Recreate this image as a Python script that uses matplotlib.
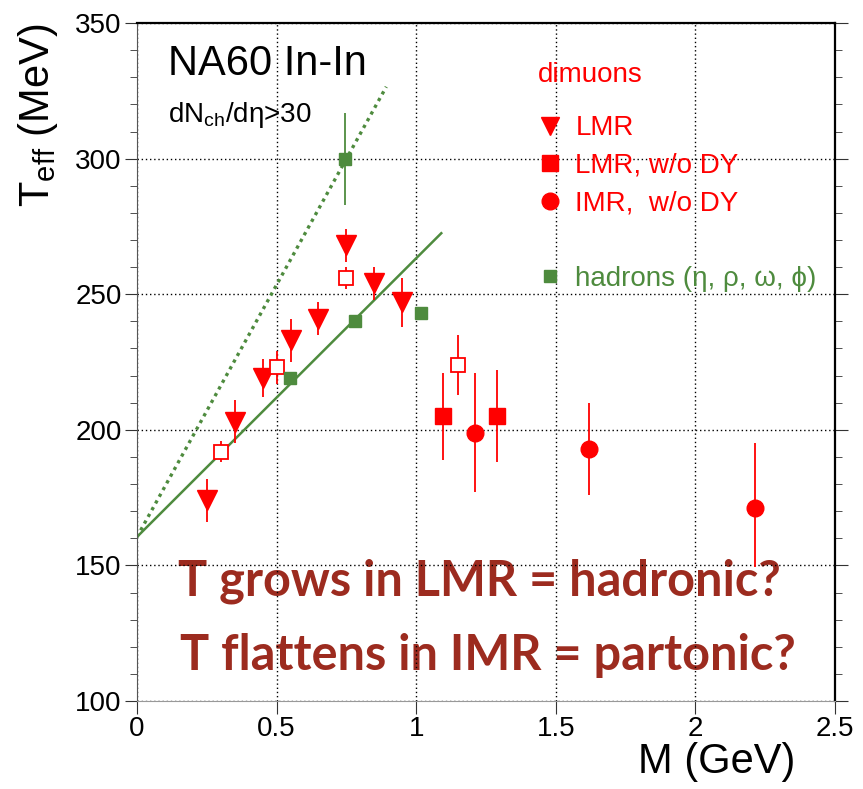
import matplotlib
matplotlib.use("Agg")
import matplotlib.pyplot as plt
from matplotlib.lines import Line2D
from matplotlib.ticker import MultipleLocator

plt.rcParams['font.family'] = ['Liberation Sans', 'DejaVu Sans']
plt.rcParams['mathtext.fontset'] = 'custom'
plt.rcParams['mathtext.rm'] = 'Liberation Sans'
plt.rcParams['mathtext.it'] = 'Liberation Sans:italic'

RED = '#ff0000'
GREEN = '#4e8b3e'
BROWN = '#9c2b1f'

# dimuon slopes, LMR (all)
lmr_m = [0.25, 0.35, 0.45, 0.55, 0.65, 0.75, 0.85, 0.95]
lmr_t = [174, 203, 219, 233, 241, 268, 254, 247]
lmr_err = [8, 8, 7, 8, 6, 6, 6, 9]

# LMR w/o DY, open symbols
lmr_open_m = [0.30, 0.50, 0.75, 1.15]
lmr_open_t = [192, 223, 256, 224]
lmr_open_err = [4, 6, 4, 11]

# LMR w/o DY, filled
lmr_nody_m = [1.095, 1.29]
lmr_nody_t = [205, 205]
lmr_nody_err = [16, 17]

# IMR w/o DY
imr_m = [1.21, 1.62, 2.215]
imr_t = [199, 193, 171]
imr_err_lo = [22, 17, 21.5]
imr_err_hi = [22, 17, 24]

# hadrons (eta, rho, omega, phi)
had_m = [0.547, 0.745, 0.78, 1.019]
had_t = [219, 300, 240, 243]
had_err = [1.5, 17, 1.5, 1]

# straight-line fits
fit_m = [0.0, 1.09]
fit_t = [160.5, 272.5]
fit2_m = [0.0, 0.893]
fit2_t = [160.5, 326.5]

fig = plt.figure(figsize=(8.63, 7.89), dpi=100)
ax = fig.add_axes([0.1587, 0.1115, 0.8088, 0.8593])

ax.plot(fit_m, fit_t, color=GREEN, lw=1.8, zorder=2)
ax.plot(fit2_m, fit2_t, color=GREEN, lw=2.4, ls=(0, (1, 1.3)), zorder=2)

ax.errorbar(lmr_m, lmr_t, yerr=lmr_err, fmt='v', color=RED, ms=14,
            elinewidth=1.3, capsize=0, zorder=4)
ax.errorbar(lmr_open_m, lmr_open_t, yerr=lmr_open_err, fmt='s', color=RED,
            mfc='white', mec=RED, mew=1.3, ms=10.5, elinewidth=1.3,
            capsize=0, zorder=4)
ax.errorbar(lmr_nody_m, lmr_nody_t, yerr=lmr_nody_err, fmt='s', color=RED,
            ms=11, elinewidth=1.3, capsize=0, zorder=4)
ax.errorbar(imr_m, imr_t, yerr=[imr_err_lo, imr_err_hi], fmt='o', color=RED,
            ms=12, elinewidth=1.3, capsize=0, zorder=4)
ax.errorbar(had_m, had_t, yerr=had_err, fmt='s', color=GREEN, ms=8.5,
            elinewidth=1.3, capsize=0, zorder=4)

ax.set_xlim(0, 2.5)
ax.set_ylim(100, 350)
ax.yaxis.set_major_locator(MultipleLocator(50))
ax.yaxis.set_minor_locator(MultipleLocator(10))
ax.set_xticks([0, 0.5, 1, 1.5, 2, 2.5])
ax.set_xticklabels(['0', '0.5', '1', '1.5', '2', '2.5'])
ax.grid(True, which='major', color='black', ls=(0, (1, 2)), lw=1.0)
ax.tick_params(which='both', direction='out', labelsize=20, right=True,
               color='#333333')
ax.tick_params(which='major', length=9, pad=2)
ax.tick_params(which='minor', length=5)
ax.tick_params(axis='x', which='minor', bottom=False)

ax.spines['top'].set_linewidth(1.6)
ax.spines['right'].set_linewidth(1.6)
ax.spines['left'].set_color('#555555')
ax.spines['bottom'].set_color('#999999')

ax.set_xlabel('M (GeV)', fontsize=30, ha='right')
ax.xaxis.set_label_coords(0.944, -0.06)
ax.set_ylabel(r'T$_{\rm eff}$ (MeV)', fontsize=30, loc='top')
ax.yaxis.set_label_coords(-0.11, 1.0)

ax.text(0.0444, 0.923, 'NA60 In-In', transform=ax.transAxes, fontsize=30,
        va='baseline')
ax.text(0.0444, 0.854, r'dN$_{\rm ch}$/dη>30', transform=ax.transAxes,
        fontsize=20, va='baseline')

# legend: header as plain text, entries below it
ax.text(0.574, 0.913, 'dimuons', transform=ax.transAxes, fontsize=20,
        color=RED, va='baseline')
handles = [
    Line2D([], [], ls='none', marker='v', ms=13, color=RED),
    Line2D([], [], ls='none', marker='s', ms=11, color=RED),
    Line2D([], [], ls='none', marker='o', ms=12, color=RED),
    Line2D([], [], ls='none'),
    Line2D([], [], ls='none', marker='s', ms=9, color=GREEN),
]
labels = ['LMR', 'LMR, w/o DY', 'IMR,  w/o DY', ' ', 'hadrons (η, ρ, ω, ϕ)']
ax.legend(handles, labels, loc='upper left', bbox_to_anchor=(0.574, 0.864),
          frameon=False, fontsize=20, borderpad=0, borderaxespad=0,
          handlelength=0.86, handletextpad=0.5, labelspacing=0.42,
          labelcolor=[RED, RED, RED, RED, GREEN])

ax.text(0.0587, 0.1563, 'T grows in LMR = hadronic?', transform=ax.transAxes,
        fontsize=35, fontweight='bold', family='Lato', color=BROWN,
        va='baseline', zorder=1)
ax.text(0.0616, 0.0457, 'T flattens in IMR = partonic?', transform=ax.transAxes,
        fontsize=35, fontweight='bold', family='Lato', color=BROWN,
        va='baseline', zorder=1)

fig.savefig('out.png', dpi=100)
